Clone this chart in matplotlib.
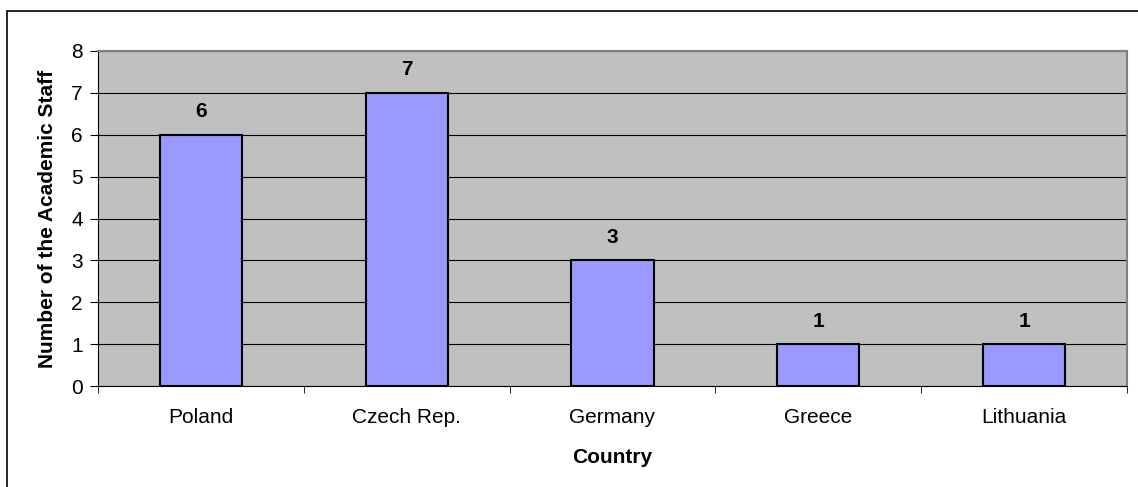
import numpy as np
import matplotlib.pyplot as plt
from matplotlib.patches import Rectangle

countries = ["Poland", "Czech Rep.", "Germany", "Greece", "Lithuania"]
staff = [6, 7, 3, 1, 1]

plt.rcParams['font.family'] = ['Liberation Sans', 'DejaVu Sans']

fig = plt.figure(figsize=(11.38, 4.87), dpi=100)
W, H = 1138, 487
ax = fig.add_axes([98 / W, 1 - 386 / H, (1127 - 98) / W, (386 - 51) / H])

# outer chart border
fig.patches.append(Rectangle((7 / W, -0.1), 1.2, 1 - 11 / H + 0.1,
                             transform=fig.transFigure, fill=False,
                             edgecolor='black', linewidth=1.2))

fs = 15
x = np.arange(len(countries))
ax.set_facecolor('#C0C0C0')
ax.bar(x, staff, width=0.4, color='#9999FF', edgecolor='black', linewidth=1.5, zorder=3)
for xi, v in zip(x, staff):
    ax.text(xi, v + 0.42, str(v), ha='center', va='baseline', fontsize=fs, fontweight='bold')

ax.set_xlim(-0.5, len(countries) - 0.5)
ax.set_ylim(0, 8)
ax.set_yticks(range(0, 9))
ax.yaxis.grid(True, color='black', linewidth=0.8, zorder=1)
ax.set_axisbelow(True)

ax.set_xticks(x)
ax.set_xticklabels(countries, fontsize=fs)
ax.set_xticks(np.arange(-0.5, len(countries)), minor=True)
ax.tick_params(axis='x', which='major', length=0, pad=16)
ax.tick_params(axis='x', which='minor', length=5, direction='out', color='black')
ax.tick_params(axis='y', length=6, direction='out', labelsize=fs, pad=5)

for s in ['top', 'right']:
    ax.spines[s].set_color('#808080')
    ax.spines[s].set_linewidth(1.5)
for s in ['left', 'bottom']:
    ax.spines[s].set_color('black')
    ax.spines[s].set_linewidth(0.8)

ax.set_xlabel('Country', fontsize=fs, fontweight='bold', labelpad=15)
ax.set_ylabel('Number of the Academic Staff', fontsize=fs, fontweight='bold', labelpad=10)

fig.savefig('out.png', dpi=100)
